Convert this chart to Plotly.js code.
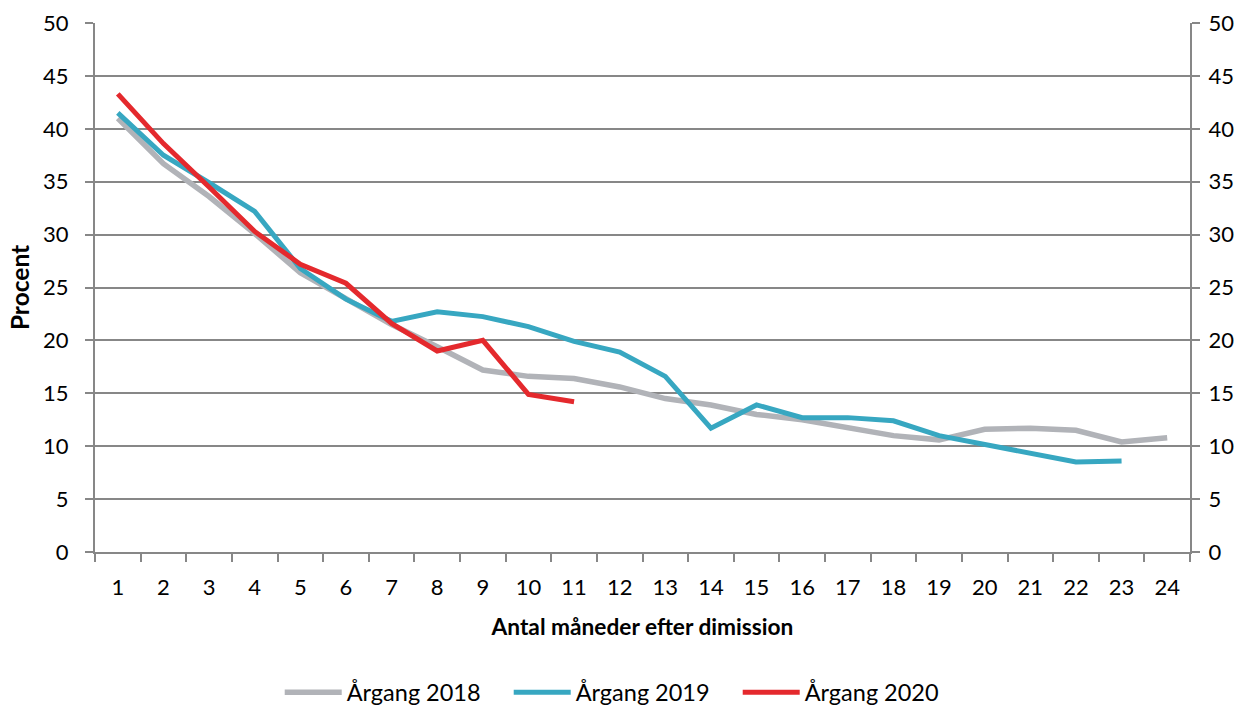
<!DOCTYPE html>
<html><head><meta charset="utf-8">
<script src="https://cdn.plot.ly/plotly-3.0.1.min.js"></script>
<style>body{margin:0;background:#fff}</style>
</head><body>
<div id="chart" style="width:1239px;height:711px"></div>
<script>
const months = ["1","2","3","4","5","6","7","8","9","10","11","12","13","14","15","16","17","18","19","20","21","22","23","24"];
const aargang2018 = [41.0,36.7,33.6,30.1,26.4,24.0,21.5,19.4,17.2,16.6,16.4,15.6,14.5,13.9,13.0,12.5,11.8,11.0,10.6,11.6,11.7,11.5,10.4,10.8];
const aargang2019 = [41.5,37.5,34.9,32.2,26.8,23.9,21.8,22.7,22.25,21.3,19.9,18.9,16.6,11.7,13.9,12.7,12.7,12.4,11.0,10.2,9.3,8.5,8.6];
const aargang2020 = [43.3,38.6,34.5,30.3,27.2,25.4,21.6,19.0,20.0,14.9,14.2];
const names = ["Årgang 2018","Årgang 2019","Årgang 2020"];
const colors = ["#b1b3b8","#37a7c1","#e4292d"];
const FONT = "Lato, 'Open Sans', sans-serif";

const series = [aargang2018, aargang2019, aargang2020];
const traces = series.map((s,i)=>({
  x: months.slice(0, s.length), y: s, type:"scatter", mode:"lines", name:names[i],
  yaxis: i===2 ? "y2" : "y",
  line:{color:colors[i], width: i===0?5.5:5}, hoverinfo:"skip"
}));

const axisCommon = {range:[0,50], dtick:5, tick0:0, showline:true, linecolor:"#878787", linewidth:2,
  ticks:"outside", ticklen:8, tickcolor:"#878787", tickwidth:2, tickfont:{size:22}, zeroline:false,
  automargin:false, ticklabelstandoff:12};

const layout = {
  width:1239, height:711,
  margin:{l:95, r:49, t:23, b:159},
  paper_bgcolor:"#fff", plot_bgcolor:"#fff",
  font:{family:FONT, size:22, color:"#000"},
  showlegend:true,
  legend:{orientation:"h", x:0.503, xanchor:"center", xref:"container", y:0.026, yref:"container", yanchor:"middle",
    font:{size:23.5},
    itemwidth:57, entrywidth:157, entrywidthmode:"pixels", traceorder:"normal"},
  xaxis:{type:"category", categoryorder:"array", categoryarray:months, tickson:"boundaries", automargin:false,
    range:[-0.5, 23.5], showgrid:false, showline:true, linecolor:"#878787", linewidth:2,
    ticks:"outside", ticklen:8, tickcolor:"#878787", tickwidth:2, tickfont:{size:22}, ticklabelstandoff:15,
    title:{text:"<b>Antal måneder efter dimission</b>", font:{size:22.7}, standoff:20}},
  yaxis:Object.assign({}, axisCommon, {showgrid:true, gridcolor:"#878787", gridwidth:2,
    title:{text:"<b>Procent</b>", font:{size:24.5}, standoff:6}}),
  yaxis2:Object.assign({}, axisCommon, {overlaying:"y", side:"right", showgrid:false, ticklabelstandoff:4})
};
Plotly.newPlot("chart", traces, layout, {displayModeBar:false, staticPlot:true});
</script>
</body></html>
